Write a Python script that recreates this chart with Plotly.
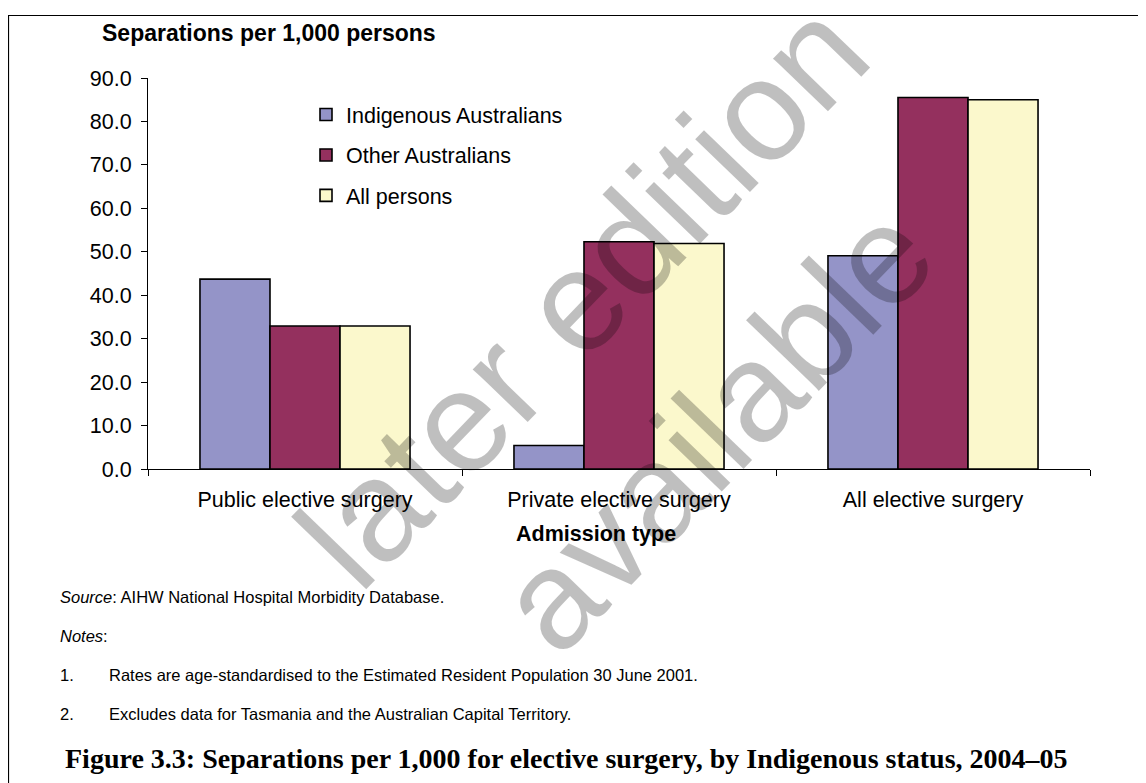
import plotly.graph_objects as go

# ---- data ----
categories = ["Public elective surgery", "Private elective surgery", "All elective surgery"]
indigenous = [43.7, 5.4, 49.1]
other_aus = [32.9, 52.3, 85.5]
all_persons = [32.9, 51.9, 85.0]
series_names = ["Indigenous Australians", "Other Australians", "All persons"]
y_ticks = [0, 10, 20, 30, 40, 50, 60, 70, 80, 90]

colors = ["#9494C8", "#94305E", "#FBF8CC"]

# page has an 8px body margin; figure is sized so that it fills the window
OFF = 8
W, H = 1146 - OFF, 783 - OFF
PLOT_L, PLOT_R, PLOT_T, PLOT_B = 148, 1090, 78, 469   # page pixel coords of plot area
L = PLOT_L - OFF
T = PLOT_T - OFF
R = W - (PLOT_R - OFF)
B = H - (PLOT_B - OFF)


def px2x(px):
    return (px - PLOT_L) / (PLOT_R - PLOT_L)


def py2y(py):
    return (PLOT_B - py) / (PLOT_B - PLOT_T)


FONT = "Liberation Sans, Arial, sans-serif"

fig = go.Figure()
for name, vals, c in zip(series_names, [indigenous, other_aus, all_persons], colors):
    fig.add_trace(go.Bar(
        x=categories, y=vals, name=name, legendgroup=name,
        marker=dict(color=c, line=dict(color="black", width=1.6)),
    ))

fig.update_layout(
    width=W, height=H,
    margin=dict(l=L, r=R, t=T, b=B),
    paper_bgcolor="white", plot_bgcolor="white",
    barmode="group", bargap=0.331, bargroupgap=0,
    font=dict(family=FONT, size=21.5, color="black"),
    showlegend=True,
    legend=dict(
        x=px2x(306), y=py2y(94), xanchor="left", yanchor="top",
        bgcolor="rgba(0,0,0,0)", borderwidth=0,
        font=dict(family=FONT, size=21.5, color="black"),
        tracegroupgap=9.5, traceorder="grouped",
    ),
    xaxis=dict(
        showline=True, linecolor="black", linewidth=1,
        ticks="outside", ticklen=6, tickcolor="black", tickson="boundaries",
        showgrid=False, ticklabelstandoff=11,
    ),
    yaxis=dict(
        range=[0, 90], tickvals=y_ticks, tickformat=".1f",
        showline=True, linecolor="black", linewidth=1,
        ticks="outside", ticklen=6, tickcolor="black",
        showgrid=False, zeroline=False, ticklabelstandoff=5,
    ),
)

ann = []
# y title
ann.append(dict(text="<b>Separations per 1,000 persons</b>", x=px2x(100), y=py2y(33),
                xref="paper", yref="paper", xanchor="left", yanchor="middle", showarrow=False,
                font=dict(family=FONT, size=23, color="black")))
# x title
ann.append(dict(text="<b>Admission type</b>", x=px2x(596), y=py2y(534),
                xref="paper", yref="paper", xanchor="center", yanchor="middle", showarrow=False,
                font=dict(family=FONT, size=21.5, color="black")))

NOTE_FONT = dict(family="Liberation Sans, Arial, sans-serif", size=16.5, color="black")
ann.append(dict(text="<i>Source</i>: AIHW National Hospital Morbidity Database.", x=px2x(58), y=py2y(597),
                xref="paper", yref="paper", xanchor="left", yanchor="middle", showarrow=False, font=NOTE_FONT))
ann.append(dict(text="<i>Notes</i>:", x=px2x(58), y=py2y(636),
                xref="paper", yref="paper", xanchor="left", yanchor="middle", showarrow=False, font=NOTE_FONT))
notes = ["Rates are age-standardised to the Estimated Resident Population 30 June 2001.",
         "Excludes data for Tasmania and the Australian Capital Territory."]
for i, (ny, nt) in enumerate(zip([675, 714], notes)):
    ann.append(dict(text=f"{i+1}.", x=px2x(58), y=py2y(ny), xref="paper", yref="paper",
                    xanchor="left", yanchor="middle", showarrow=False, font=NOTE_FONT))
    ann.append(dict(text=nt, x=px2x(107), y=py2y(ny), xref="paper", yref="paper",
                    xanchor="left", yanchor="middle", showarrow=False, font=NOTE_FONT))
# caption
ann.append(dict(text="<b>Figure 3.3: Separations per 1,000 for elective surgery, by Indigenous status, 2004\u201305</b>",
                x=px2x(566), y=py2y(758), xref="paper", yref="paper", xanchor="center", yanchor="middle",
                showarrow=False,
                font=dict(family="Liberation Serif, Times New Roman, serif", size=28, color="black")))
# watermark
WM = dict(family=FONT, size=140, color="rgba(0,0,0,0.25)")
ann.append(dict(text="later edition", x=px2x(582), y=py2y(294), xref="paper", yref="paper",
                xanchor="center", yanchor="middle", showarrow=False, textangle=-46,
                font=dict(family=FONT, size=144, color="rgba(0,0,0,0.25)")))
ann.append(dict(text="available", x=px2x(715), y=py2y(428), xref="paper", yref="paper",
                xanchor="center", yanchor="middle", showarrow=False, textangle=-46, font=WM))
fig.update_layout(annotations=ann)

# outer border (top and left visible)
fig.add_shape(type="rect", xref="paper", yref="paper",
              x0=px2x(8.5), x1=px2x(1160), y0=py2y(800), y1=py2y(15.5),
              line=dict(color="black", width=1.2), fillcolor="rgba(0,0,0,0)", layer="below")

fig.write_html("out.html")
